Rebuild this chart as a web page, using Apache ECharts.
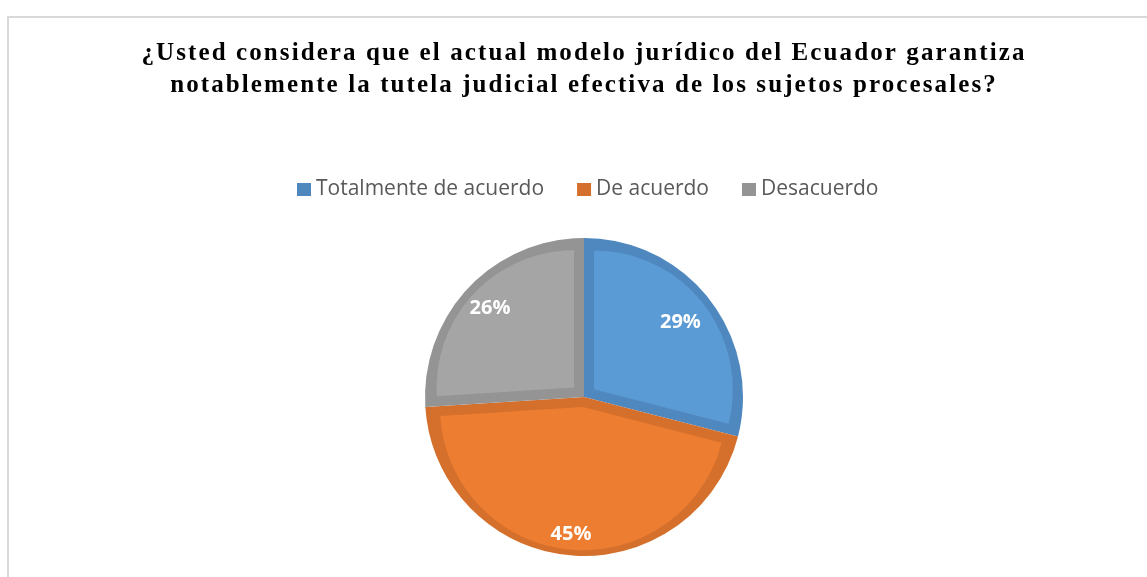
<!DOCTYPE html>
<html>
<head>
<meta charset="utf-8">
<script src="https://cdn.jsdelivr.net/npm/echarts@6/dist/echarts.min.js"></script>
<style>
  html, body { margin: 0; padding: 0; background: #fff; overflow: hidden; }
  #frame { position: absolute; left: 7px; top: 16px; width: 1300px; height: 700px;
           border-left: 2px solid #d9d9d9; border-top: 2px solid #d9d9d9; }
  #main { position: absolute; left: 7px; top: 0; width: 1154px; height: 577px; }
</style>
</head>
<body>
<div id="frame"></div>
<div id="main"></div>
<script>
// datos de la encuesta
var categorias = ['Totalmente de acuerdo', 'De acuerdo', 'Desacuerdo'];
var porcentajes = [29, 45, 26];
var coloresClaros = ['#5b9bd5', '#ed7d31', '#a5a5a5'];
var coloresOscuros = ['#4f88bf', '#d4702c', '#949494'];
// distancia de cada etiqueta al centro (como la coloca Excel)
var distEtiquetas = [119, 135, 126];

// el título del original lleva espaciado entre letras
var fillOrig = CanvasRenderingContext2D.prototype.fillText;
CanvasRenderingContext2D.prototype.fillText = function (t, x, y, w) {
    if (this.font.indexOf('Liberation Serif') >= 0 && 'letterSpacing' in this) {
        var ant = this.letterSpacing;
        this.letterSpacing = '2.1px';
        var r = w === undefined ? fillOrig.call(this, t, x, y) : fillOrig.call(this, t, x, y, w);
        this.letterSpacing = ant;
        return r;
    }
    return fillOrig.apply(this, arguments);
};

var ele = document.getElementById('main');
var chart = echarts.init(ele);

var cx = ele.clientWidth / 2, cy = 397;
var radio = 159;   // radio exterior
var bisel = 10;    // ancho del borde oscuro

var total = porcentajes.reduce(function (a, b) { return a + b; }, 0);

var series = [{
    // fondo oscuro del bisel
    type: 'pie',
    center: [cx, cy],
    radius: [0, radio],
    startAngle: 90,
    silent: true,
    label: { show: false },
    labelLine: { show: false },
    data: categorias.map(function (c, i) {
        return { name: c, value: porcentajes[i], itemStyle: { color: coloresOscuros[i] } };
    })
}];

// parte clara de cada sector, desplazada hacia adentro para dejar el bisel
var acum = 0;
porcentajes.forEach(function (v, i) {
    var ang = v / total * 360;
    var medio = (acum + ang / 2) * Math.PI / 180;
    var d = bisel / Math.sin(Math.min(ang, 180) / 2 * Math.PI / 180);
    var r2 = radio - bisel - d * (1 + Math.cos(ang / 2 * Math.PI / 180)) / 2;
    series.push({
        type: 'pie',
        center: [cx + d * Math.sin(medio), cy - d * Math.cos(medio)],
        radius: [0, r2],
        startAngle: 90 - acum,
        silent: true,
        label: { show: false },
        labelLine: { show: false },
        data: [
            { name: categorias[i], value: v, itemStyle: { color: coloresClaros[i] } },
            { name: 'resto', value: total - v, itemStyle: { color: 'rgba(0,0,0,0)' } }
        ]
    });
    // etiqueta del porcentaje
    series.push({
        type: 'pie',
        center: [cx, cy],
        radius: [0, distEtiquetas[i] * 2],
        startAngle: 90 - acum,
        silent: true,
        legendHoverLink: false,
        itemStyle: { color: 'rgba(0,0,0,0)' },
        labelLine: { show: false },
        data: [
            {
                name: categorias[i], value: v,
                label: {
                    show: true, position: 'inside', formatter: '{c}%', color: '#fff',
                    fontFamily: 'Open Sans', fontWeight: 'bold', fontSize: 20
                }
            },
            { name: 'resto', value: total - v, label: { show: false } }
        ]
    });
    acum += ang;
});

var option = {
    animation: false,
    title: {
        text: '¿Usted considera que el actual modelo jurídico del Ecuador garantiza\nnotablemente la tutela judicial efectiva de los sujetos procesales?',
        left: 'center',
        top: 33,
        textStyle: {
            fontFamily: 'Liberation Serif',
            fontWeight: 'bold',
            fontSize: 25,
            lineHeight: 32,
            color: '#000'
        }
    },
    legend: {
        data: categorias,
        left: 285,
        top: 174,
        icon: 'rect',
        itemWidth: 14,
        itemHeight: 13,
        itemGap: 33,
        textStyle: { fontFamily: 'Open Sans', fontSize: 21, color: '#595959' }
    },
    series: series
};
chart.setOption(option);
</script>
</body>
</html>
